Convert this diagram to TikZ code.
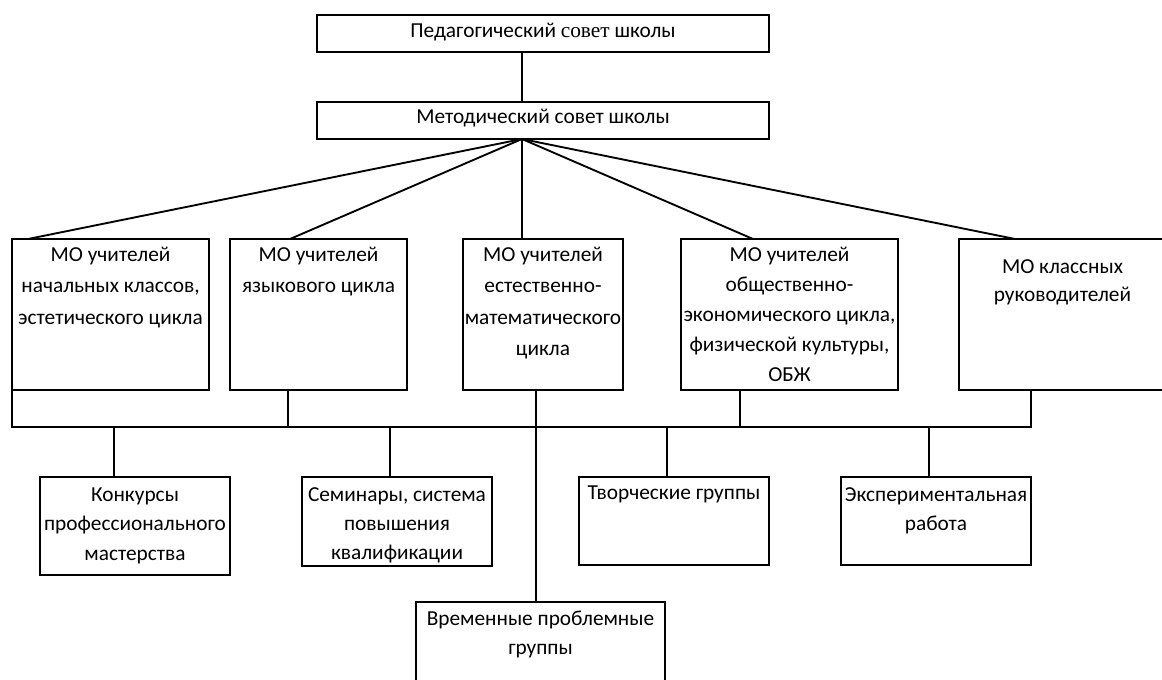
\documentclass[tikz,border=0pt]{standalone}
\usepackage{fontspec}
\setmainfont{Carlito}
\newfontfamily\serifru{Liberation Serif}
\usetikzlibrary{fit,calc}
\newcommand\firstln{\rule{0pt}{16pt}}
\begin{document}
\begin{tikzpicture}[x=0.75pt,y=-0.75pt,
  box/.style={draw, line width=1.5pt, rectangle, inner sep=0pt, outer sep=0pt},
  txt/.style={font=\fontsize{16}{23.5}\selectfont, align=center, inner sep=0pt, anchor=north},
  txtb/.style={txt, font=\fontsize{16}{22}\selectfont},
  ctxt/.style={font=\fontsize{16}{20}\selectfont, inner sep=0pt, anchor=center},
  conn/.style={line width=1.4pt}]
\clip (0,0) rectangle (1162,679);
% boxes
\node[box, fit={(317,15) (769,52)}] (ped) {};
\node[box, fit={(317,102) (769,139)}] (met) {};
\node[box, fit={(12,239) (209,390)}] (b1) {};
\node[box, fit={(230,239) (407,390)}] (b2) {};
\node[box, fit={(463,239) (623,390)}] (b3) {};
\node[box, fit={(681,239) (898,390)}] (b4) {};
\node[box, fit={(959,239) (1167,390)}] (b5) {};
\node[box, fit={(40,477) (230,575)}] (k) {};
\node[box, fit={(302,477) (492,566)}] (s) {};
\node[box, fit={(579,477) (769,565)}] (t) {};
\node[box, fit={(841,477) (1031,565)}] (e) {};
\node[box, fit={(416,602) (665,700)}] (v) {};
% texts
\node[ctxt] (pedt) at ($(ped.center)+(0,-1)$) {Педагогический {\serifru совет} школы};
\node[ctxt] (mett) at ($(met.center)+(0,-2)$) {Методический совет школы};
\node[txt] (b1t) at ($(b1.north)+(0,1)$) {\firstln МО учителей\\начальных классов,\\эстетического цикла};
\node[txt] (b2t) at ($(b2.north)+(0,1)$) {\firstln МО учителей\\языкового цикла};
\node[txt] (b3t) at ($(b3.north)+(0,1)$) {\firstln МО учителей\\естественно-\\математического\\цикла};
\node[txt, font=\fontsize{16}{22.5}\selectfont] (b4t) at ($(b4.north)+(0,1)$) {\firstln МО учителей\\общественно-\\экономического цикла,\\физической культуры,\\ОБЖ};
\node[txt, font=\fontsize{16}{21}\selectfont] (b5t) at ($(b5.north)+(-0.5,13)$) {\firstln МО классных\\руководителей};
\node[txtb] (kt) at ($(k.north)+(0,3)$) {\firstln Конкурсы\\профессионального\\мастерства};
\node[txtb] (st) at ($(s.north)+(0,2.5)$) {\firstln Семинары, система\\повышения\\квалификации};
\node[txtb] (tt) at ($(t.north)+(0,1)$) {\firstln Творческие группы};
\node[txtb] (et) at ($(e.north)+(0,3)$) {\firstln Экспериментальная\\работа};
\node[txtb] (vt) at ($(v.north)+(0,2)$) {\firstln Временные проблемные\\группы};
% connectors
\coordinate (o) at (522,139);
\coordinate (busL) at (12,427);
\coordinate (busR) at (1031,427);
\draw[conn] (o |- ped.south) -- (o |- met.north);
\draw[conn] (o) -- (28,0 |- b1.north);
\draw[conn] (o) -- (290,0 |- b2.north);
\draw[conn] (o) -- (522,0 |- b3.north);
\draw[conn] (o) -- (753,0 |- b4.north);
\draw[conn] (o) -- (1015,0 |- b5.north);
\draw[conn] (b1.south west) -- (busL) -- (busR) -- (busR |- b5.south);
\draw[conn] (288,0 |- b2.south) -- (288,0 |- busL);
\draw[conn] (536,0 |- b3.south) -- (536,0 |- v.north);
\draw[conn] (740,0 |- b4.south) -- (740,0 |- busL);
\draw[conn] (114,0 |- busL) -- (114,0 |- k.north);
\draw[conn] (390,0 |- busL) -- (390,0 |- s.north);
\draw[conn] (667,0 |- busL) -- (667,0 |- t.north);
\draw[conn] (929,0 |- busL) -- (929,0 |- e.north);
\end{tikzpicture}
\end{document}
